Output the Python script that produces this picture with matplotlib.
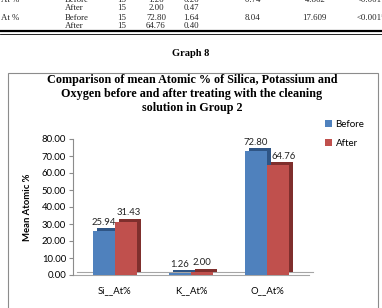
import numpy as np
import matplotlib
matplotlib.use("Agg")
import matplotlib.pyplot as plt
import matplotlib.transforms as mtransforms
from matplotlib.patches import Rectangle

# data
categories = ["Si__At%", "K__At%", "O__At%"]
before = [25.94, 1.26, 72.80]
after = [31.43, 2.00, 64.76]
yticks = [0, 10, 20, 30, 40, 50, 60, 70, 80]

# table fragment above the graph
table_rows = [
    ["At %", "Before", "15", "1.26", "0.26", "-0.74", "-4.862", "<0.001*"],
    ["", "After", "15", "2.00", "0.47", "", "", ""],
    ["At %", "Before", "15", "72.80", "1.64", "8.04", "17.609", "<0.001*"],
    ["", "After", "15", "64.76", "0.40", "", "", ""],
]

W, H = 382, 308
fig = plt.figure(figsize=(W / 100, H / 100), dpi=100)

def fx(px): return px / W
def fy(py): return 1 - py / H

serif = "Liberation Serif"
sans = "Lato"

col_x = [1, 65, 117, 156, 191, 252, 314, 357]
col_ha = ["left", "left", "left", "center", "center", "center", "center", "left"]
for i, row in enumerate(table_rows):
    yy = -0.5 + 9 * i
    for j, t in enumerate(row):
        if t:
            fig.text(fx(col_x[j]), fy(yy), t, ha=col_ha[j], va="center",
                     fontsize=6.3, family=serif, color="#222222")

fig.add_artist(plt.Line2D([0, 1], [fy(31), fy(31)], color="black", lw=1.6))
fig.add_artist(plt.Line2D([0, 1], [fy(33.5), fy(33.5)], color="black", lw=0.6))

fig.text(fx(191), fy(54), "Graph 8", ha="center", va="center",
         fontsize=7.5, family=serif, weight="bold")

# chart box
fig.add_artist(Rectangle((fx(8), fy(330)), fx(370), fy(73) - fy(330),
                         transform=fig.transFigure, fill=False,
                         edgecolor="#8c8c8c", lw=0.8))

fig.text(fx(192), fy(94),
         "Comparison of mean Atomic % of Silica, Potassium and\n"
         "Oxygen before and after treating with the cleaning\n"
         "solution in Group 2",
         ha="center", va="center", fontsize=8.7, family=serif,
         weight="bold", linespacing=1.2)

ax = fig.add_axes([fx(73), fy(275), fx(236), fy(139) - fy(275)])
x = np.arange(len(categories))
bw = 0.29
depth = mtransforms.offset_copy(ax.transData, fig=fig, x=4, y=3, units="dots")

ax.bar(x - bw / 2, before, bw, color="#2f5585", transform=depth, zorder=2)
ax.bar(x + bw / 2, after, bw, color="#7f2f2d", transform=depth, zorder=2)
bb = ax.bar(x - bw / 2, before, bw, color="#4f81bd", zorder=3, label="Before")
ba = ax.bar(x + bw / 2, after, bw, color="#c0504d", zorder=3, label="After")

# small sideways nudges so labels clear the neighbouring bar's depth face
nudge = {"before": [0, 0, 0], "after": [2, 0, 4]}
for bars, vals, key in ((bb, before, "before"), (ba, after, "after")):
    for r, v, dx in zip(bars, vals, nudge[key]):
        ax.annotate(f"{v:.2f}", (r.get_x() + r.get_width() / 2, v),
                    xytext=(dx, 3), textcoords="offset points",
                    ha="center", va="bottom", fontsize=6.8, family=sans,
                    color="#222222", zorder=6)

xl, xr = -0.55, 2.55
ax.set_xlim(xl, xr)
ax.set_ylim(0, 80)
ax.plot([xl, xr], [0, 0], color="#a6a6a6", lw=0.8, zorder=1, clip_on=False)
ax.plot([xl, xr], [0, 0], color="#a6a6a6", lw=0.8, zorder=1, clip_on=False,
        transform=depth)

ax.set_yticks(yticks)
ax.set_yticklabels([f"{v:.2f}" for v in yticks], fontsize=6.8, family=sans)
ax.set_xticks(x)
ax.set_xticklabels(categories, fontsize=6.8, family=sans)
ax.tick_params(axis="x", length=0, pad=8)
ax.tick_params(axis="y", length=3, color="#8c8c8c", pad=2)
for s in ["top", "right", "bottom"]:
    ax.spines[s].set_visible(False)
ax.spines["left"].set_color("#8c8c8c")
ax.set_ylabel("Mean Atomic %", fontsize=6.8, family=sans, weight="bold", labelpad=7)
ax.patch.set_alpha(0)

fig.legend(handles=[bb, ba], labels=["Before", "After"],
           loc="upper left", bbox_to_anchor=(fx(320), fy(115)),
           frameon=False, prop={"family": sans, "size": 7},
           handlelength=0.7, handleheight=0.7, handletextpad=0.4,
           labelspacing=1.0, borderpad=0)

fig.savefig("out.png", dpi=100)
